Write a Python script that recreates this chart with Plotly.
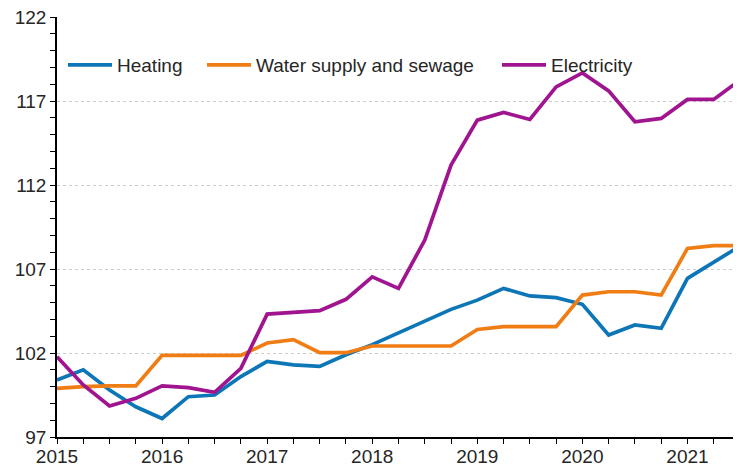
import plotly.graph_objects as go

quarters = [2015 + i * 0.25 for i in range(27)]

heating = [100.4, 101.0, 99.8, 98.8, 98.1, 99.4, 99.5, 100.6,
           101.5, 101.3, 101.2, 101.9, 102.5, 103.2, 103.9, 104.6,
           105.15, 105.85, 105.4, 105.3, 104.9, 103.07, 103.67, 103.47,
           106.45, 107.44, 108.37]
water = [99.9, 100.0, 100.04, 100.04, 101.86, 101.86, 101.86, 101.86,
         102.6, 102.8, 102.02, 102.02, 102.42, 102.42, 102.42, 102.42,
         103.4, 103.57, 103.57, 103.57, 105.45, 105.65, 105.65, 105.45,
         108.23, 108.39, 108.39]
electricity = [101.78, 100.1, 98.85, 99.3, 100.04, 99.94, 99.66, 101.09,
               104.32, 104.42, 104.52, 105.2, 106.54, 105.85, 108.73, 113.19,
               115.87, 116.33, 115.91, 117.85, 118.68, 117.61, 115.77, 115.97,
               117.1, 117.1, 118.25]

year_ticks = [2015, 2016, 2017, 2018, 2019, 2020, 2021]
year_labels = ["2015", "2016", "2017", "2018", "2019", "2020", "2021"]

series = [
    ("Heating", heating, "#0c76b6", "legend", 55),
    ("Water supply and sewage", water, "#f07d14", "legend2", 194),
    ("Electricity", electricity, "#a0148f", "legend3", 489),
]

FONT = "Liberation Sans, Arial, sans-serif"
TXT = "#262626"

# page body has an 8px default margin; size the figure to fit the window
W, H = 733, 459

fig = go.Figure()
for name, vals, col, lg, _ in series:
    fig.add_trace(go.Scatter(x=quarters, y=vals, name=name, mode="lines",
                             line=dict(color=col, width=3.7), legend=lg))

layout_legends = {}
for name, vals, col, lg, px in series:
    layout_legends[lg] = dict(
        x=px / W, y=1 - 57 / H, xref="container", yref="container",
        xanchor="left", yanchor="middle", orientation="h",
        bgcolor="rgba(0,0,0,0)", borderwidth=0, itemwidth=44,
        font=dict(family=FONT, size=19, color=TXT),
    )

fig.update_layout(
    width=W, height=H,
    margin=dict(l=49, r=1, t=9, b=30, autoexpand=False),
    paper_bgcolor="white", plot_bgcolor="white",
    font=dict(family=FONT, size=19, color=TXT),
    showlegend=True,
    **layout_legends,
)

fig.update_xaxes(
    range=[2015, 2021.5], tickvals=year_ticks, ticktext=year_labels,
    showgrid=False, showline=True, linecolor="black", linewidth=1.5,
    ticks="outside", ticklen=1, tickcolor="black", tickwidth=1,
    minor=dict(dtick=0.25, tick0=2015, ticks="outside", ticklen=5,
               tickcolor="black", tickwidth=1, showgrid=False),
    zeroline=False, tickfont=dict(family=FONT, size=19, color=TXT),
    ticklabeloverflow="allow",
)
fig.update_yaxes(
    range=[97, 122.01], tick0=97, dtick=5,
    showgrid=True, gridcolor="#cccccc", griddash="dot", gridwidth=1,
    showline=True, linecolor="black", linewidth=1.5,
    ticks="outside", ticklen=5, tickcolor="black", tickwidth=1,
    minor=dict(dtick=1, tick0=97, ticks="outside", ticklen=5,
               tickcolor="black", tickwidth=1, showgrid=False),
    zeroline=False, tickfont=dict(family=FONT, size=19, color=TXT),
    ticklabeloverflow="allow",
)

fig.write_html("out.html")
